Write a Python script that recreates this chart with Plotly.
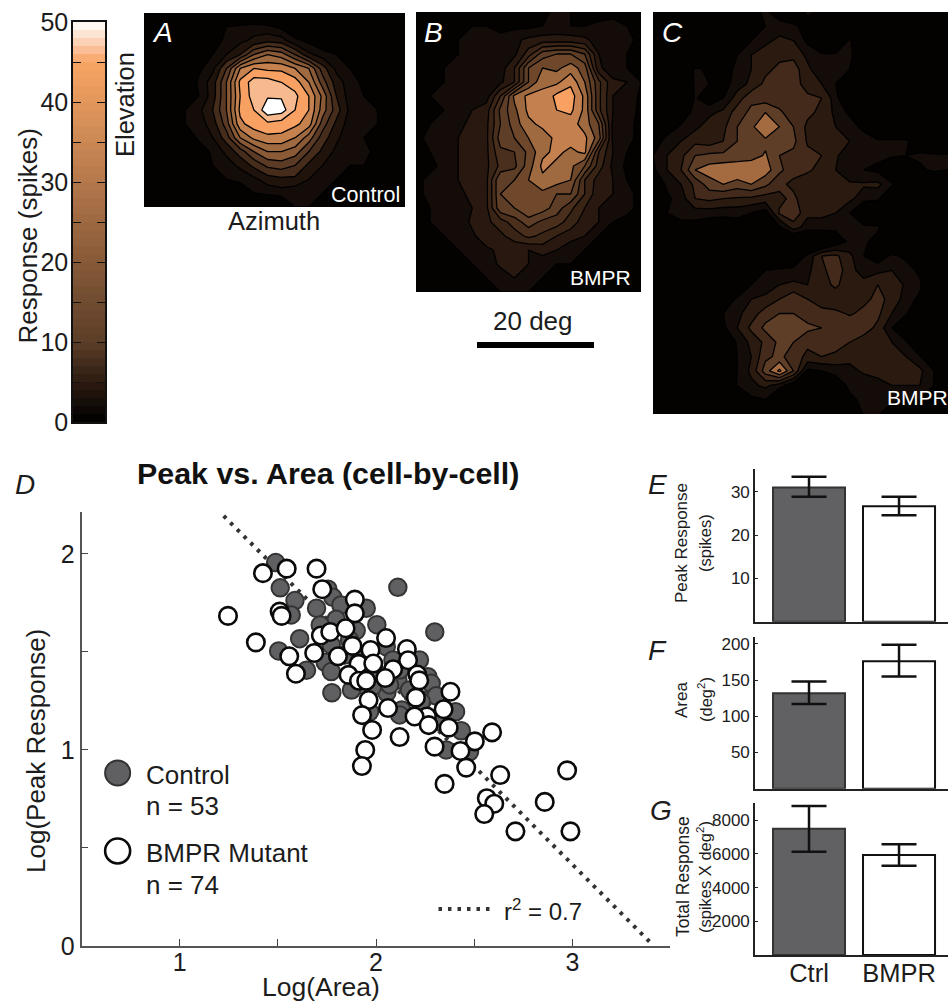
import plotly.graph_objects as go

W, H = 948, 1001
FONT = "Liberation Sans"
INK = "#1c1c1c"

# ---------- scatter data (panel D) ----------
ctrl_x = [1.489,1.512,1.587,1.568,1.697,1.755,1.780,1.821,1.950,2.111,1.797,1.716,1.611,1.504,1.646,1.775,1.741,1.772,1.772,1.899,2.004,2.299,2.052,2.086,2.111,2.264,2.281,2.055,2.131,1.950,2.238,2.306,2.405,2.434,2.230,1.967,2.357,2.476,2.323,2.120,1.982,1.865,1.840,1.992,1.875,2.170,2.120,1.916,2.221,2.069]
ctrl_y = [1.956,1.827,1.762,1.689,1.723,1.820,1.779,1.740,1.723,1.830,1.667,1.638,1.568,1.505,1.407,1.292,1.447,1.400,1.536,1.609,1.639,1.602,1.527,1.459,1.357,1.374,1.340,1.292,1.204,1.323,1.255,1.276,1.195,1.098,1.246,1.195,1.000,0.991,1.144,1.179,1.323,1.561,1.485,1.408,1.306,1.306,1.408,1.459,1.459,1.332]
bmpr_x = [1.246,1.388,1.424,1.545,1.697,1.509,1.519,1.726,1.892,1.892,1.558,1.592,1.685,1.719,1.767,1.845,1.806,1.880,1.972,2.051,2.157,2.163,1.911,1.986,2.087,2.047,1.860,1.913,1.950,2.210,2.220,1.962,2.061,2.203,1.929,2.259,2.196,2.268,1.980,2.120,2.298,1.945,2.379,2.344,2.370,2.591,2.503,2.430,1.928,2.459,2.632,2.973,2.349,2.564,2.602,2.859,2.551,2.710,2.990]
bmpr_y = [1.684,1.549,1.902,1.925,1.925,1.706,1.684,1.820,1.767,1.697,1.478,1.389,1.495,1.584,1.602,1.621,1.478,1.531,1.510,1.571,1.515,1.458,1.439,1.441,1.412,1.367,1.383,1.353,1.353,1.385,1.355,1.255,1.214,1.267,1.178,1.171,1.171,1.127,1.102,1.066,1.017,1.000,1.297,1.208,1.114,1.090,1.044,0.995,0.918,0.910,0.872,0.896,0.827,0.754,0.726,0.735,0.673,0.585,0.585]
fit_x = [1.224, 3.41]
fit_y = [2.194, 0.005]

# ---------- bar data (panels E, F, G) ----------
bar_labels = ["Ctrl", "BMPR"]
peak_mean = [31.0, 26.7]
peak_hi = [33.5, 28.9]
peak_lo = [28.9, 24.6]
area_mean = [132, 176]
area_hi = [148, 199]
area_lo = [117, 155]
total_mean = [7495, 5935]
total_hi = [8840, 6570]
total_lo = [6130, 5300]

# ---------- receptive field maps (spikes) ----------
map_a = [
 [0]*20,
 [0,0,0,0,0,0,8,9,10,9,7,4,0,0,0,0,0,0,0,0],
 [0,0,0,0,0,6,9,11,13,15,14,9,7,4,0,0,0,0,0,0],
 [0,0,0,0,4,8,12,16,24,28,26,20,13,10,8,3,0,0,0,0],
 [0,0,0,0,7,11,20,32,36,35,35,32,28,18,11,8,4,0,0,0],
 [0,0,0,3,9,14,24,37,42,42,40,38,32,22,14,10,7,3,0,0],
 [0,0,0,4,8,14,24,36,42,43.5,43.5,41,36,27,16,10,8,5,0,0],
 [0,0,5,8,11,16,24,37,40,47,46,40,36,26,18,11,9,8,3,0],
 [0,0,4,8,10,14,22,35,38,39,38,37,34,22,15,10,9,8,4,0],
 [0,0,0,4,9,12,18,28,33,35,35,32,26,18,13,9,8,4,0,0],
 [0,0,0,0,5,9,13,18,24,28,28,26,20,15,11,8.5,9,7,0,0],
 [0,0,0,0,0,8,10,13,17,21,22,20,15,12,9.5,8,8,5,0,0],
 [0,0,0,0,4,8,8,9,11,14,15,15,12,10,8,8,3,0,0,0],
 [0,0,0,0,0,0,3,5,8,9,10,9,9,8,6,3,0,0,0,0],
 [0,0,0,0,0,0,0,0,0,0,1,8,8,2,0,0,0,0,0,0],
]
map_b = [
 [2,2,2,2,3,4,3,2,3,3,5,4,3,2,3,3,2],
 [2,2,2,3,4,4,3,3,3,4,5,4,4,5,5,4,3],
 [2,2,3,4,5,5,5,7,9,10,10,10,9,6,5,5,3],
 [2,2,3,4,5,5,6,7,14,22,24,24,20,8,5,4,3],
 [3,3,4,5,5,5,6,12,24,28,27,30,26,9,5,4,2],
 [3,3,4,5,5,5,7,12,24,31,31,35,28,17,9,8,4],
 [3,4,5,5,5,6,16,29,33,33,37,38,31,17,8,7,3],
 [3,4,4,6,8,10,21,27,33,33,36,37,31,17,8,6,3],
 [3,4,5,7,9,11,20,26,31,33,33,34,30,24,7,5,3],
 [3,5,5,8,9,11,22,24,28,30,33,34,33,26,7,5,3],
 [2,4,6,8,9,11,19,20,25,31,33,31,33,16,8,4,2],
 [2,3,5,8,9,11,17,19,26,33,31,29,24,14,7,3,2],
 [3,5,6,8,9,11,24,24,28,31,30,28,16,10,8,4,2],
 [3,5,6,7,9,11,24,25,27,27,24,24,16,9,8,5,3],
 [3,4,5,6,8,11,23,24,28,26,22,17,12,8,8,5,3],
 [3,4,5,5,9,11,14,18,22,19,18,14,10,8,4,3,3],
 [3,4,4,5,7,11,11,14,17,15,12,10,8,4,3,3,2],
 [2,2,3,4,5,7,9,9,8,10,8,5,4,3,3,3,2],
 [2,2,3,4,4,5,9,9,8,5,4,4,3,3,3,3,2],
 [2,2,3,3,4,4,5,8,5,4,4,3,3,3,2,2,2],
 [2,2,2,3,3,3,4,4,4,4,3,3,3,2,2,2,2],
]
map_c = [
 [0,0,0,0,0,0,0,6,9,5,3,9,7,0,0,0,0,0,0,0,0,0],
 [0,0,0,0,0,0,0,0,8,10,9,6,0,0,0,0,0,0,0,0,0,0],
 [0,0,0,0,0,0,4,8,11,13,12,7,0,0,9,0,0,0,0,0,0,0],
 [0,0,0,0,0,0,8,12,14,15,15,11,9,9,9,4,0,0,0,0,0,0],
 [0,0,0,9,7,6,9,12,15,17,18,13,9,9,8,0,0,0,0,0,0,0],
 [0,0,0,9,8,6,10,13,17,17,18,14,12,8,0,0,0,0,0,0,0,0],
 [0,0,0,8.5,5,8,14,19,18,17,18,17,16,10,0,0,0,0,0,0,0,0],
 [0,0,4,10,11,13,18,21,24,21,17,17,15,11,7,0,0,0,0,0,0,0],
 [0,4,9,11,14,15,20,23,28,24,20,15,13,12,11,6,0,0,0,0,0,0],
 [3,11,12,15,14,16,20,21,23,22,21,15.5,16,13,12,12,9,9,9,4,0,0],
 [8,12,15,20,21,21,21,22,24.5,20,19,17,16,12.5,10,9,9,9,8,9,9,9],
 [7,12,16,24,26,27,28,28,26,21,17.5,16.5,15,12,9.5,8,7,0,0,7,9,8],
 [3,9,12,17,22,24,22,24,21,17,15,14,14,13,12.5,12.5,13,9,0,0,0,0],
 [0,7,10,16,17,16,15.5,15,14,15,17,13,13,13,13,10,9,0,0,0,0,0],
 [0,8,10,10,10,9.5,9.5,8,6,16.5,19,13,13,12,8,0,0,0,0,0,0,0],
 [0,5,6,6,4,4,5,0,0,7,14,10,10,9,9,9.5,9,0,0,0,0,0],
 [0,0,0,0,0,0,0,0,0,0,0,0,0,5,9,9,6,0,0,0,0,0],
 [0,0,0,0,0,0,0,0,0,0,4,9,16,17,13,8,5,9,7,0,0,0],
 [0,0,0,0,0,0,0,0,8,9,9,11,15,18,14,9.5,11,12,10,7,0,0],
 [0,0,0,0,0,0,0,8,10,12,13,12,14,17,13,14,16,16,11,9,0,0],
 [0,0,0,0,0,4,9,12,13,16,19,16,13,13,12,15,17,15,10,7,0,0],
 [0,0,0,0,0,8,11,14,18,20,20,18,18,17,15.5,17,17,12,9,0,0,0],
 [0,0,0,0,0,7,12,17,21,21,21,21,20,19,19,18,15,8,0,0,0,0],
 [0,0,0,0,0,0,9,13,17,21,20,17,17,17,16,14,12.5,12,9,0,0,0],
 [0,0,0,0,0,0,8,12,19,21,18,15,16,15.5,13,13,13,13,12,8.5,0,0],
 [0,0,0,0,0,0,8,13,22,29,20,7,8,9.5,11,12.5,13,13,13,13,8,0],
 [0,0,0,0,0,0,8.5,11,13,10,5,0,0,5,9,10,11,12,12,12,8,0],
 [0,0,0,0,0,0,0,7,8,0,0,0,0,0,7,9,9.5,9,8,8,8,0],
 [0,0,0,0,0,0,0,0,0,0,0,0,0,0,0,8.5,8.5,5,0,0,0,0],
]
bands_a = ["#030201","#130c08","#1f130c","#452c1b","#5b3b25","#714a2e","#8a5a37","#a06a40","#c6824e","#f8a163","#f7b98e","#ffffff"]
bands_b = ["#030201","#130c08","#281810","#3a2416","#4a2f1c","#5f3e27","#6f482c","#a06a40","#c4804e","#f8a163","#f7b98e","#ffffff"]
bands_c = ["#030201","#130c08","#2a1a10","#432a1a","#5f3e27","#7e5233","#a46a40","#c8844f","#c8844f","#f8a163","#f7b98e","#ffffff"]
bar_stops = [(0,"#000000"),(5,"#2c1b11"),(10,"#5c3f28"),(15,"#704b30"),(20,"#875a38"),(25,"#9d6841"),
             (30,"#b4784c"),(35,"#cb8854"),(40,"#e2975b"),(45,"#f8a564"),(46,"#f9b384"),(48,"#fcdcc6"),(50,"#ffffff")]
bar_levels = list(range(-1, 51))


def dx(a, b):
    return [a / W, min(b / W, 1)]


def dy(top, bottom):
    return [1 - bottom / H, 1 - top / H]


fig = go.Figure()
layout = {}

# colour bar
fig.add_trace(go.Heatmap(z=[[v + 0.5] for v in bar_levels], y=[v + 0.5 for v in bar_levels], x=[0],
                         zmin=0, zmax=50, showscale=False, xaxis="x", yaxis="y",
                         colorscale=[[v / 50, c] for v, c in bar_stops], hoverinfo="skip"))
layout["xaxis"] = dict(domain=dx(73, 105), range=[-0.5, 0.5], showticklabels=False, ticks="", showgrid=False,
                       zeroline=False, showline=True, linecolor="#111", linewidth=1.5, mirror=True, automargin=False)
layout["yaxis"] = dict(domain=dy(22, 422), range=[0, 50], tickmode="array", tickvals=list(range(0, 51, 10)),
                       ticks="inside", ticklen=8, tickwidth=1.3, tickcolor="#111", mirror="ticks", showline=True,
                       linecolor="#111", linewidth=1.5, showgrid=False, zeroline=False, automargin=False,
                       minor=dict(tickvals=list(range(5, 50, 10)), ticks="inside", ticklen=8, tickwidth=1.3, tickcolor="#111"),
                       tickfont=dict(size=25, color=INK), ticklabelstandoff=-2)

# maps


def add_map(i, z, left, right, top, bottom, start, bands):
    ny, nx = len(z), len(z[0])
    stops = []
    for k, c in enumerate(bands):
        stops += [[k / 12, c], [(k + 1) / 12, c]]
    fig.add_trace(go.Contour(z=z, xaxis=f"x{i}", yaxis=f"y{i}", zmin=0, zmax=48, autocontour=False,
                             contours=dict(start=start, end=44, size=4, coloring="fill", showlines=True),
                             line=dict(color="#000", width=1.3, smoothing=0), colorscale=stops, showscale=False,
                             hoverinfo="skip"))
    layout[f"xaxis{i}"] = dict(domain=dx(left, right), range=[0, nx - 1], visible=False, automargin=False)
    layout[f"yaxis{i}"] = dict(domain=dy(top, bottom), range=[ny - 1, 0], visible=False, automargin=False)


add_map(2, map_a, 144, 405, 13, 207, 8, bands_a)
add_map(3, map_b, 416, 641, 12, 292, 4, bands_b)
add_map(4, map_c, 653, 948, 12, 414, 8, bands_c)

# scatter
AX_D = dict(xaxis="x5", yaxis="y5")
DOT = dict(color="#333", width=4, dash="3.5px,6px")
fig.add_trace(go.Scatter(x=fit_x, y=fit_y, mode="lines", line=DOT, **AX_D))
fig.add_trace(go.Scatter(x=ctrl_x, y=ctrl_y, mode="markers",
                         marker=dict(size=17.5, color="#606062", line=dict(color="#333", width=2)), **AX_D))
fig.add_trace(go.Scatter(x=bmpr_x, y=bmpr_y, mode="markers",
                         marker=dict(size=17.5, color="#fff", line=dict(color="#0a0a0a", width=2.6)), **AX_D))
# legend glyphs
fig.add_trace(go.Scatter(x=[0.684], y=[0.883], mode="markers",
                         marker=dict(size=25, color="#606062", line=dict(color="#333", width=2)), **AX_D))
fig.add_trace(go.Scatter(x=[0.684], y=[0.485], mode="markers",
                         marker=dict(size=25, color="#fff", line=dict(color="#0a0a0a", width=2.6)), **AX_D))
fig.add_trace(go.Scatter(x=[2.318, 2.588], y=[0.189, 0.189], mode="lines", line=DOT, **AX_D))
layout["xaxis5"] = dict(domain=dx(81.5, 670), range=[0.5, 3.497], anchor="y5", tickmode="array",
                        tickvals=[1, 2, 3], ticks="inside", ticklen=7, tickwidth=1.3, tickcolor="#444",
                        minor=dict(tickvals=[1.5, 2.5], ticks="inside", ticklen=7, tickwidth=1.3, tickcolor="#444"),
                        showline=True, linecolor="#555", linewidth=1.6, automargin=False,
                        showgrid=False, zeroline=False, tickfont=dict(size=25, color=INK), ticklabelstandoff=-7)
layout["yaxis5"] = dict(domain=dy(512, 946), range=[0, 2.214], anchor="x5", tickmode="array",
                        tickvals=[0, 1, 2], ticks="inside", ticklen=7, tickwidth=1.3, tickcolor="#444",
                        minor=dict(tickvals=[0.5, 1.5], ticks="inside", ticklen=7, tickwidth=1.3, tickcolor="#444"),
                        showline=True, linecolor="#555", linewidth=1.6, automargin=False,
                        showgrid=False, zeroline=False, tickfont=dict(size=25, color=INK))


# bars
def add_bars(i, mean, hi, lo, top, bottom, ymax, tickvals, show_x):
    fig.add_trace(go.Bar(x=[0, 1], y=mean, width=0.8, xaxis=f"x{i}", yaxis=f"y{i}",
                         marker=dict(color=["#616163", "#ffffff"], line=dict(color=["#333", "#111"], width=2)),
                         error_y=dict(type="data", symmetric=False, array=[h - m for h, m in zip(hi, mean)],
                                      arrayminus=[m - l for m, l in zip(mean, lo)], color="#111", thickness=2.5,
                                      width=17.5)))
    ax = dict(domain=dx(755, 948), range=[-0.6, 1.544], anchor=f"y{i}", ticks="",
              showline=True, linecolor="#222", linewidth=1.6, showgrid=False, zeroline=False, automargin=False,
              tickfont=dict(size=25.5, color=INK))
    if show_x:
        ax.update(tickmode="array", tickvals=[0, 1], ticktext=bar_labels, ticklabelstandoff=-5)
    else:
        ax.update(showticklabels=False)
    layout[f"xaxis{i}"] = ax
    layout[f"yaxis{i}"] = dict(domain=dy(top, bottom), range=[0, ymax], anchor=f"x{i}", tickmode="array",
                               tickvals=tickvals, ticks="inside", ticklen=3, tickwidth=1.3, tickcolor="#222",
                               showline=True, linecolor="#222", linewidth=1.6, showgrid=False, zeroline=False,
                               automargin=False, tickfont=dict(size=17, color=INK))


add_bars(6, peak_mean, peak_hi, peak_lo, 469, 621.7, 35.3, [10, 20, 30], False)
add_bars(7, area_mean, area_hi, area_lo, 636.7, 788.7, 210, [50, 100, 150, 200], False)
add_bars(8, total_mean, total_hi, total_lo, 803, 955, 9020, [2000, 4000, 6000, 8000], True)


def note(text, x, y, size, color=INK, anchor="left", angle=0, italic=False, bold=False):
    t = text
    if italic:
        t = f"<i>{t}</i>"
    if bold:
        t = f"<b>{t}</b>"
    if anchor == "left":
        x -= 2.5
    return dict(text=t, x=x / W, y=1 - y / H, xref="paper", yref="paper", xanchor=anchor, yanchor="middle",
                showarrow=False, textangle=angle, font=dict(family=FONT, size=size, color=color))


layout["annotations"] = [
    note("Response (spikes)", 27, 236.5, 26, anchor="center", angle=-90),
    note("Elevation", 125, 105, 25.5, anchor="center", angle=-90),
    note("Azimuth", 274, 221, 25.5, anchor="center"),
    note("A", 152, 32, 28, "#fff", italic=True),
    note("B", 424, 32, 28, "#fff", italic=True),
    note("C", 662, 32, 28, "#fff", italic=True),
    note("Control", 331, 195, 21.5, "#fff"),
    note("BMPR", 570.5, 277, 21, "#fff"),
    note("BMPR", 887.5, 397, 21, "#fff"),
    note("20 deg", 533, 321, 26, anchor="center"),
    note("D", 15, 484, 28, italic=True),
    note("Peak vs. Area (cell-by-cell)", 328, 473, 30.4, "#111", anchor="center", bold=True),
    note("Log(Peak Response)", 36, 751, 26, anchor="center", angle=-90),
    note("Log(Area)", 321, 986.5, 26.5, anchor="center"),
    note("Control", 146, 775, 26),
    note("n = 53", 146, 806, 26),
    note("BMPR Mutant", 146, 853, 26),
    note("n = 74", 146, 885, 26),
    note("r<sup>2</sup> = 0.7", 504, 910, 24),
    note("E", 648, 484, 28, italic=True),
    note("F", 648, 650, 28, italic=True),
    note("G", 650, 810, 28, italic=True),
    note("Peak Response", 681, 543, 17, anchor="center", angle=-90),
    note("(spikes)", 705, 543, 16.5, anchor="center", angle=-90),
    note("Area", 681, 700, 17, anchor="center", angle=-90),
    note("(deg<sup>2</sup>)", 705, 700, 16.5, anchor="center", angle=-90),
    note("Total Response", 683, 877, 17.5, anchor="center", angle=-90),
    note("(spikes X deg<sup>2</sup>)", 704, 877, 16.5, anchor="center", angle=-90),
]
# 20 degree scale bar
layout["shapes"] = [dict(type="rect", xref="paper", yref="paper", x0=477 / W, x1=594 / W, y0=1 - 348 / H, y1=1 - 342 / H,
                         fillcolor="#000", line=dict(width=0))]

fig.update_layout(template="none", width=W, height=H, autosize=False, margin=dict(l=0, r=0, t=0, b=0), showlegend=False,
                  paper_bgcolor="#fff", plot_bgcolor="#fff", font=dict(family=FONT, color=INK), **layout)
fig.write_html("out.html", config={"displayModeBar": False},
               post_script="document.body.style.margin='0';")
